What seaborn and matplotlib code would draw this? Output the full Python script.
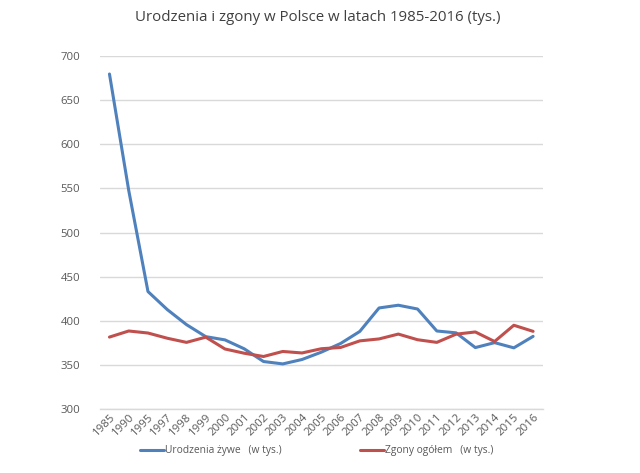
import matplotlib
matplotlib.use("Agg")
import matplotlib.pyplot as plt
import seaborn as sns
import pandas as pd

years = ["1985", "1990", "1995", "1997", "1998", "1999", "2000", "2001", "2002",
         "2003", "2004", "2005", "2006", "2007", "2008", "2009", "2010", "2011",
         "2012", "2013", "2014", "2015", "2016"]
births = [679.6, 547.7, 433.1, 412.7, 395.6, 382.0, 378.3, 368.2, 353.8, 351.1,
          356.1, 364.4, 374.2, 387.9, 414.5, 417.6, 413.3, 388.4, 386.3, 369.6,
          375.2, 369.3, 382.3]
deaths = [381.5, 388.4, 386.1, 380.2, 375.5, 381.4, 368.0, 363.2, 359.5, 365.2,
          363.5, 368.3, 369.7, 377.2, 379.4, 384.9, 378.5, 375.5, 384.8, 387.3,
          376.5, 394.9, 388.0]
series_names = ["Urodzenia żywe   (w tys.)", "Zgony ogółem   (w tys.)"]
colors = ["#4F81BD", "#C0504D"]

df = pd.concat([
    pd.DataFrame({"rok": years, "wartość": births, "seria": series_names[0]}),
    pd.DataFrame({"rok": years, "wartość": deaths, "seria": series_names[1]}),
])

sns.set_theme(style="white")
plt.rcParams['font.family'] = ['Open Sans', 'DejaVu Sans']

fig = plt.figure(figsize=(6.4, 4.73), dpi=100)
ax = fig.add_axes([0.156, 0.1353, 0.692, 0.7463])

sns.lineplot(data=df, x="rok", y="wartość", hue="seria", palette=colors,
             linewidth=2.2, sort=False, ax=ax, legend=False)

ax.set_xlim(-0.5, len(years) - 0.5)
ax.set_ylim(300, 700)
ax.set_yticks(range(300, 701, 50))
ax.yaxis.grid(True, color="#D9D9D9", linewidth=1)
ax.set_axisbelow(True)
for s in ["top", "right", "left"]:
    ax.spines[s].set_visible(False)
ax.spines["bottom"].set_color("#D9D9D9")
ax.spines["bottom"].set_linewidth(1)
ax.set_xlabel("")
ax.set_ylabel("")
ax.tick_params(axis="y", labelsize=8.2, colors="#595959", length=0, pad=14)
ax.tick_params(axis="x", labelsize=8.2, colors="#595959", length=0, pad=2)
plt.setp(ax.get_xticklabels(), rotation=45, ha="right", rotation_mode="anchor")

fig.text(0.497, 0.962, "Urodzenia i zgony w Polsce w latach 1985-2016 (tys.)",
         ha="center", va="center", fontsize=10.8, color="#404040")

from matplotlib.lines import Line2D
handles = [Line2D([], [], color=c, linewidth=2.2) for c in colors]
fig.legend(handles, series_names, loc="center", bbox_to_anchor=(0.495, 0.047),
           ncol=2, frameon=False, fontsize=7.4, handlelength=2.3,
           handletextpad=0.15, columnspacing=7.6, labelcolor="#595959")

fig.savefig("out.png", dpi=100)
